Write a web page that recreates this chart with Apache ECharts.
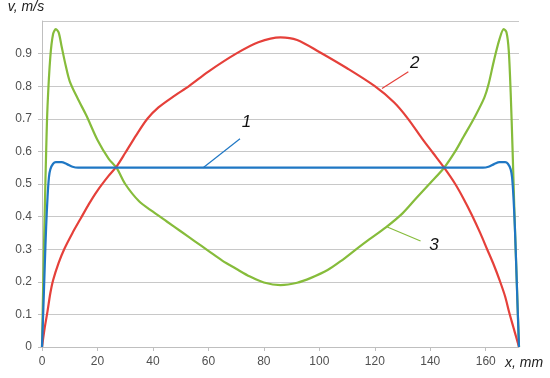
<!DOCTYPE html>
<html><head><meta charset="utf-8">
<script src="https://cdn.jsdelivr.net/npm/echarts@6/dist/echarts.min.js"></script>
<style>html,body{margin:0;padding:0;background:#fff}#c{width:550px;height:378px}</style>
</head><body><div id="c"></div>
<script>
// x in mm, v in m/s
const curve1 = [[0,0],[0.5,0.12],[1,0.25],[1.5,0.37],[2,0.46],[2.5,0.52],[3,0.545],[4,0.562],[5,0.567],[7,0.567],[9,0.561],[11,0.553],[13,0.55],[30,0.55],[60,0.55],[90,0.55],[120,0.55],[150,0.55],[159,0.55],[161,0.553],[163,0.561],[165,0.567],[167,0.567],[168,0.562],[169,0.545],[169.5,0.52],[170,0.46],[170.5,0.37],[171,0.25],[171.5,0.12],[172,0]];
const curve2 = [[0,0],[1,0.06],[2,0.11],[3,0.165],[4,0.205],[6,0.258],[8,0.3],[11,0.35],[14,0.395],[17,0.44],[20,0.48],[24,0.525],[27,0.555],[30,0.595],[34,0.65],[38,0.7],[42,0.735],[48,0.772],[53,0.8],[60,0.845],[70,0.9],[78,0.935],[86,0.95],[92,0.942],[100,0.905],[110,0.855],[120,0.8],[127,0.75],[132,0.7],[137,0.64],[141,0.595],[145,0.55],[149,0.5],[152,0.455],[155,0.405],[158,0.35],[160.5,0.3],[163,0.25],[165,0.205],[167,0.155],[168.5,0.105],[170,0.06],[171,0.03],[172,0]];
const curve3 = [[0,0],[0.5,0.22],[1,0.42],[1.5,0.6],[2,0.74],[3,0.89],[4,0.96],[5,0.975],[6,0.965],[7,0.925],[8.5,0.865],[10,0.815],[13,0.76],[16,0.71],[20,0.635],[24,0.578],[27,0.548],[30,0.5],[35,0.447],[40,0.415],[45,0.385],[50,0.355],[55,0.325],[60,0.295],[65,0.265],[70,0.24],[75,0.216],[80,0.198],[86,0.19],[92,0.197],[97,0.212],[103,0.236],[108,0.265],[113,0.298],[118,0.33],[124,0.367],[130,0.41],[135,0.457],[140,0.503],[145,0.55],[149,0.6],[152,0.645],[156,0.705],[159.5,0.765],[161,0.805],[163,0.88],[165,0.945],[166.5,0.975],[167.5,0.965],[168.3,0.91],[169,0.78],[169.7,0.6],[170.4,0.4],[171.2,0.2],[172,0]];
const xTicks = [0,20,40,60,80,100,120,140,160];
const yTicks = [0,0.1,0.2,0.3,0.4,0.5,0.6,0.7,0.8,0.9];
const curveNames = ['1','2','3'];
const leader1 = [[58.1,0.55],[71.4,0.639]];
const leader2 = [[122.6,0.793],[132.1,0.844]];
const leader3 = [[124.5,0.368],[136.5,0.325]];
const labelPos = [[73.7,0.689],[134.4,0.869],[141.3,0.312]];

const colors = ['#1F77C4','#E5403A','#86BC3B'];
const curves = [curve1, curve2, curve3];
const leaders = [leader1, leader2, leader3];

const chart = echarts.init(document.getElementById('c'), null, {renderer:'canvas'});
const series = curves.map((d,i)=>({
  type:'line', name:curveNames[i], data:d, showSymbol:false, smooth:0.3,
  lineStyle:{color:colors[i], width:2.2}, itemStyle:{color:colors[i]}, z:3-i+2, animation:false,
  markLine:{silent:true, symbol:['none','none'], animation:false,
    lineStyle:{color:colors[i], width:1.2, type:'solid'}, label:{show:false},
    data:[[{coord:leaders[i][0]},{coord:leaders[i][1]}]]},
  markPoint:{silent:true, symbol:'circle', symbolSize:0, animation:false,
    label:{show:true, formatter:curveNames[i], color:'#111', fontSize:17, fontStyle:'italic', fontFamily:'Liberation Sans'},
    data:[{coord:labelPos[i]}]}
}));
chart.setOption({
  animation:false,
  grid:{left:42, right:31, top:21, bottom:31},
  xAxis:{type:'value', min:0, max:172, interval:20,
    name:'x, mm', nameLocation:'end', nameGap:-14,
    nameTextStyle:{fontSize:14, fontStyle:'italic', color:'#222', fontFamily:'Liberation Sans', verticalAlign:'top', align:'left', padding:[9,0,0,0]},
    axisLine:{show:true, lineStyle:{color:'#BFBFBF', width:1}},
    axisTick:{show:true, length:4, lineStyle:{color:'#BFBFBF'}},
    axisLabel:{color:'#505050', fontSize:12, fontFamily:'Liberation Sans', margin:9, showMaxLabel:false,
      formatter:v=>xTicks.includes(v)?String(v):''},
    splitLine:{show:false}},
  yAxis:{type:'value', min:0, max:1, interval:0.1,
    name:'v, m/s', nameLocation:'end', nameGap:7,
    nameTextStyle:{fontSize:14, fontStyle:'italic', color:'#222', fontFamily:'Liberation Sans', align:'center', padding:[0,0,0,-32]},
    axisLine:{show:true, lineStyle:{color:'#BFBFBF', width:1}},
    axisTick:{show:true, length:4, lineStyle:{color:'#BFBFBF'}},
    axisLabel:{color:'#505050', fontSize:12, fontFamily:'Liberation Sans', margin:10, showMaxLabel:false,
      formatter:v=>{const r=Math.round(v*10)/10; return yTicks.includes(r)?String(r):'';}},
    splitLine:{show:true, lineStyle:{color:'#C8C8C8', width:1}}},
  series:series
});
</script></body></html>
